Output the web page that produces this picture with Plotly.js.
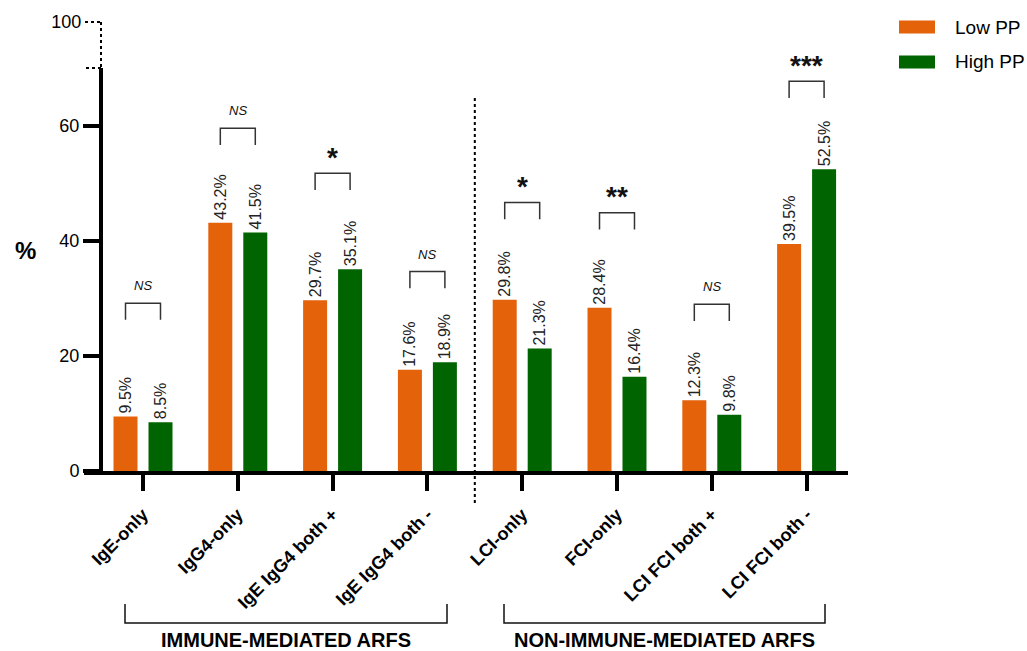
<!DOCTYPE html>
<html>
<head>
<meta charset="utf-8">
<script src="https://cdn.plot.ly/plotly-3.0.1.min.js"></script>
<style>
  html, body { margin: 0; padding: 0; background: #fff; }
  #chart { width: 1027px; height: 651px; }
</style>
</head>
<body>
<div id="chart"></div>
<script>
// Categories and the two series (percent of patients)
const categories = ["IgE-only", "IgG4-only", "IgE IgG4 both +", "IgE IgG4 both -",
                    "LCI-only", "FCI-only", "LCI FCI both +", "LCI FCI both -"];
const lowPP  = [9.5, 43.2, 29.7, 17.6, 29.8, 28.4, 12.3, 39.5];
const highPP = [8.5, 41.5, 35.1, 18.9, 21.3, 16.4, 9.8, 52.5];
const significance = ["NS", "NS", "*", "NS", "*", "**", "NS", "***"];
const groupNames = ["IMMUNE-MEDIATED ARFS", "NON-IMMUNE-MEDIATED ARFS"];
const yTicks = [0, 20, 40, 60];

// Height (in % units) of each comparison bracket
const bracketTop = [29.2, 59.6, 51.8, 34.7, 46.7, 44.9, 29.0, 67.8];

const ORANGE = "#E3620A";
const GREEN = "#006400";
const FONT = "Arial, 'Liberation Sans', Helvetica, sans-serif";

// Plot geometry
const W = 1027, H = 651;
const L = 84, R = 848, T = 22, B = 471;
const xMin = -0.6224, xMax = 7.4367;
const yMax = 70.1;
const lowerTop = (B - 68) / (B - T);   // top of the lower (0-70) y segment
const bargap = 0.262;
const half = (1 - bargap) / 4;          // offset of each bar from category centre

const px2x = p => (p - L) / (R - L);
const px2y = p => (B - p) / (B - T);
const catX = i => (i - xMin) / (xMax - xMin);

const barText = {
  textposition: "outside", textangle: -90, constraintext: "none", cliponaxis: false,
  textfont: { family: FONT, size: 16, color: "#222" }
};

const traces = [
  Object.assign({
    type: "bar", name: "Low PP", x: categories, y: lowPP,
    marker: { color: ORANGE },
    text: lowPP.map(v => v.toFixed(1) + "%"),
    hoverinfo: "x+y"
  }, barText),
  Object.assign({
    type: "bar", name: "High PP", x: categories, y: highPP,
    marker: { color: GREEN },
    text: highPP.map(v => v.toFixed(1) + "%"),
    hoverinfo: "x+y"
  }, barText),
  {
    // carries the upper (broken) y segment
    type: "scatter", mode: "markers", x: [categories[0]], y: [100],
    yaxis: "y2", marker: { opacity: 0 }, hoverinfo: "skip", showlegend: false
  }
];

const shapes = [];
const annotations = [];

// comparison brackets and significance marks
categories.forEach((c, i) => {
  const x0 = i - half, x1 = i + half, top = bracketTop[i], leg = 2.9;
  shapes.push({
    type: "path", xref: "x", yref: "y",
    path: `M ${x0},${top - leg} L ${x0},${top} L ${x1},${top} L ${x1},${top - leg}`,
    line: { color: "#333", width: 1.5 }
  });
  const ns = significance[i] === "NS";
  annotations.push({
    xref: "x", yref: "y", x: i, y: top,
    xanchor: "center", yanchor: ns ? "bottom" : "middle",
    yshift: ns ? 8 : 16,
    text: ns ? "<i>NS</i>" : "<b>" + significance[i] + "</b>",
    showarrow: false,
    font: { family: FONT, size: ns ? 13 : 28, color: "#111" }
  });
});

// broken-axis dashes up to 100
const yAxisX = px2x(101);
shapes.push(
  { type: "line", xref: "paper", yref: "paper", x0: px2x(85), x1: yAxisX, y0: 1, y1: 1,
    line: { color: "#000", width: 2, dash: "dot" } },
  { type: "line", xref: "paper", yref: "paper", x0: yAxisX, x1: yAxisX, y0: 1, y1: lowerTop,
    line: { color: "#000", width: 2, dash: "dot" } },
  { type: "line", xref: "paper", yref: "paper", x0: px2x(86), x1: yAxisX, y0: lowerTop, y1: lowerTop,
    line: { color: "#000", width: 2, dash: "dot" } }
);

// separator between the two groups
shapes.push({
  type: "line", xref: "paper", yref: "paper", x0: catX(3.5), x1: catX(3.5),
  y0: px2y(98), y1: px2y(503), line: { color: "#000", width: 2, dash: "dot" }
});

// group brackets below the category labels
const groupSpans = [[125, 447], [504, 825]];
groupSpans.forEach((g, k) => {
  shapes.push({
    type: "path", xref: "paper", yref: "paper",
    path: `M ${px2x(g[0])},${px2y(604)} L ${px2x(g[0])},${px2y(623)} L ${px2x(g[1])},${px2y(623)} L ${px2x(g[1])},${px2y(604)}`,
    line: { color: "#111", width: 1.5 }
  });
  annotations.push({
    xref: "paper", yref: "paper", x: px2x((g[0] + g[1]) / 2), y: px2y(640),
    xanchor: "center", yanchor: "middle",
    text: "<b>" + groupNames[k] + "</b>", showarrow: false,
    font: { family: FONT, size: 20, color: "#000" }
  });
});

// y axis title
annotations.push({
  xref: "paper", yref: "paper", x: px2x(25), y: px2y(250),
  xanchor: "center", yanchor: "middle",
  text: "<b>%</b>", showarrow: false, font: { family: FONT, size: 24, color: "#000" }
});

// legend
[["Low PP", ORANGE, 27], ["High PP", GREEN, 62]].forEach(([name, col, cy]) => {
  shapes.push({
    type: "rect", xref: "paper", yref: "paper",
    x0: px2x(899), x1: px2x(935), y0: px2y(cy - 6.5), y1: px2y(cy + 6.5),
    fillcolor: col, line: { width: 0 }
  });
  annotations.push({
    xref: "paper", yref: "paper", x: px2x(953), y: px2y(cy),
    xanchor: "left", yanchor: "middle",
    text: name, showarrow: false, font: { family: FONT, size: 19, color: "#000" }
  });
});

const layout = {
  width: W, height: H,
  margin: { l: L, r: W - R, t: T, b: H - B, pad: 0 },
  paper_bgcolor: "#fff", plot_bgcolor: "#fff",
  showlegend: false,
  barmode: "group", bargap: bargap, bargroupgap: 0.314,
  font: { family: FONT, color: "#000" },
  xaxis: {
    type: "category", range: [xMin, xMax], fixedrange: true,
    showline: true, linecolor: "#000", linewidth: 4,
    ticks: "outside", ticklen: 16, tickwidth: 4, tickcolor: "#000",
    tickangle: -45, ticklabelstandoff: 6,
    tickfont: { family: FONT, size: 18, color: "#000", weight: "bold" },
    showgrid: false, zeroline: false
  },
  yaxis: {
    domain: [0, lowerTop], range: [0, yMax], fixedrange: true,
    anchor: "free", position: yAxisX,
    showline: true, linecolor: "#000", linewidth: 4,
    ticks: "outside", ticklen: 16, tickwidth: 4, tickcolor: "#000",
    tickvals: yTicks, ticktext: yTicks.map(String),
    tickfont: { family: FONT, size: 18, color: "#000" },
    showgrid: false, zeroline: false
  },
  yaxis2: {
    domain: [lowerTop, 1], range: [95, 100], fixedrange: true,
    anchor: "free", position: yAxisX,
    showline: false, ticks: "outside", ticklen: 16, tickwidth: 4,
    tickcolor: "rgba(0,0,0,0)",
    tickvals: [100], ticktext: ["100"],
    tickfont: { family: FONT, size: 18, color: "#000" },
    showgrid: false, zeroline: false
  },
  shapes: shapes,
  annotations: annotations
};

Plotly.newPlot("chart", traces, layout, { displayModeBar: false, staticPlot: true });
</script>
</body>
</html>
